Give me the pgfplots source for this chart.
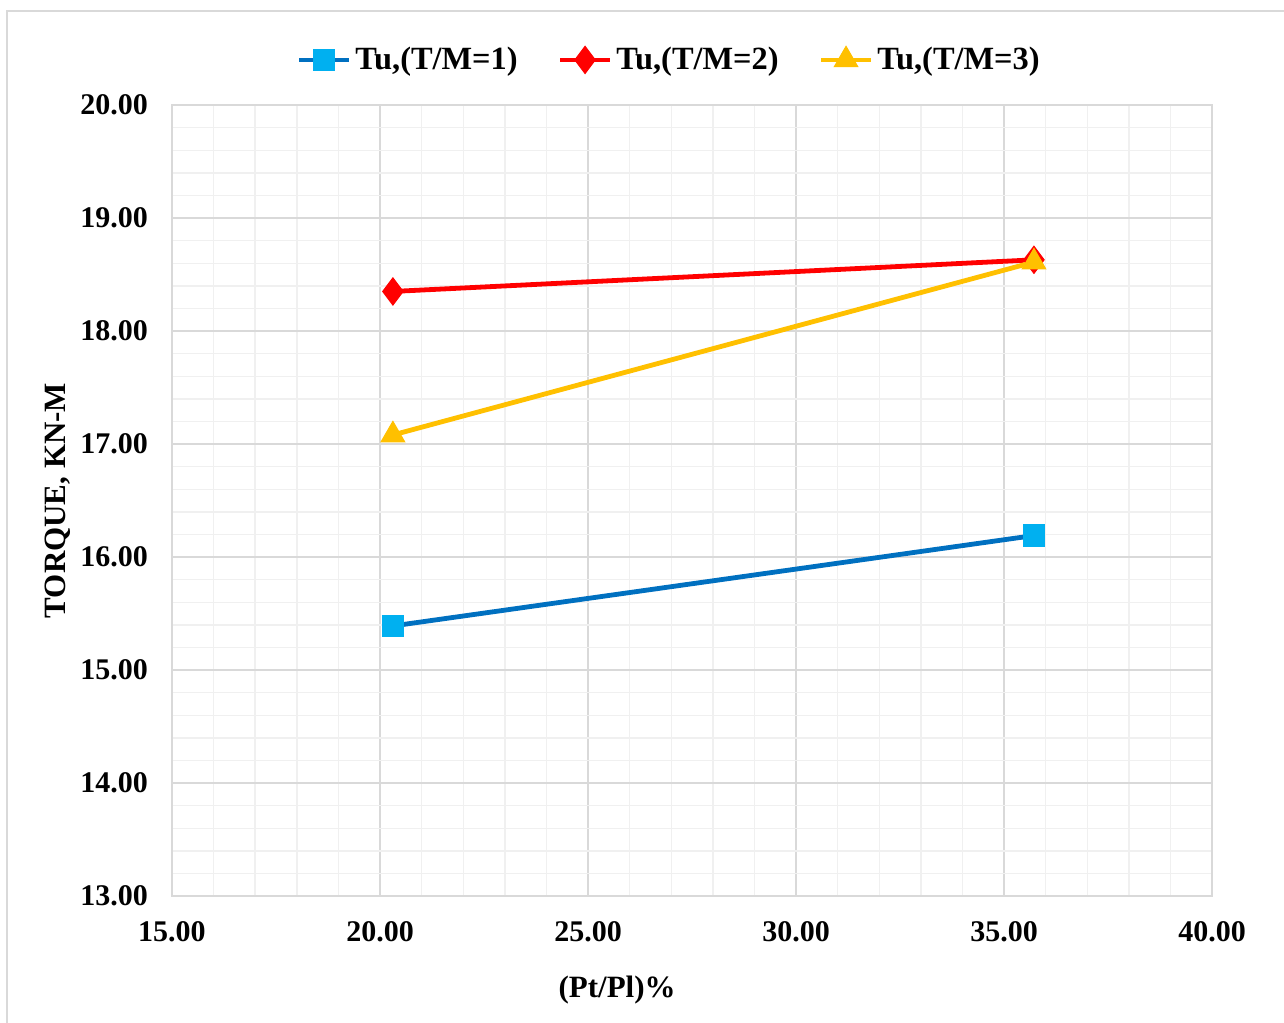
\documentclass[border=0pt]{standalone}
\usepackage{fontspec}
\setmainfont{Liberation Serif}
\usepackage{pgfplots}
\pgfplotsset{compat=1.18}
\definecolor{gmaj}{HTML}{D9D9D9}
\definecolor{gmin}{HTML}{F0F0F0}
\definecolor{c1line}{HTML}{0070C0}
\definecolor{c1mark}{HTML}{00B0F0}
\definecolor{c2}{HTML}{FF0000}
\definecolor{c3}{HTML}{FFC000}
\begin{document}
\begin{tikzpicture}
\useasboundingbox (-86pt,-63pt) rectangle (556pt,448pt);
\draw[gmaj, line width=0.8pt] (-82.5pt,-70pt) rectangle (570pt,442.5pt);
\begin{axis}[
  at={(0pt,0pt)}, anchor=south west,
  scale only axis, width=520pt, height=395.5pt,
  xmin=15, xmax=40, ymin=13, ymax=20,
  xtick={15,20,...,40}, ytick={13,14,...,20},
  minor x tick num=4, minor y tick num=4,
  grid=both,
  major grid style={gmaj, line width=0.7pt},
  minor grid style={gmin, line width=0.7pt},
  axis line style={gmaj, line width=0.7pt},
  tick style={draw=none},
  /pgf/number format/assume math mode=true,
  /pgf/number format/fixed, /pgf/number format/fixed zerofill, /pgf/number format/precision=2,
  ticklabel style={font=\fontsize{15}{18}\selectfont\bfseries},
  xticklabel style={yshift=-9pt},
  yticklabel style={xshift=-8.5pt},
  xlabel={(Pt/Pl)\%},
  ylabel={TORQUE, KN-M},
  label style={font=\fontsize{15.5}{18}\selectfont\bfseries},
  xlabel style={at={(axis description cs:0.428,-0.119)}, anchor=center},
  ylabel style={at={(axis description cs:-0.1096,0.5)}, anchor=center},
  legend style={at={(0.479,1.057)}, anchor=center, draw=none, fill=none,
    legend columns=3, font=\fontsize{16.2}{19}\selectfont\bfseries,
    /tikz/every even column/.append style={column sep=18pt}},
  legend image code/.code={
    \draw[#1, mark=none] (0pt,0pt) -- (25pt,0pt);
    \draw[#1, only marks] plot coordinates {(12.5pt,0pt)};
  },
]
\addplot[c1line, line width=2.4pt, mark=square*, mark size=5.4pt,
  mark options={draw=c1mark, fill=c1mark, line width=0.5pt}]
  coordinates {(20.31,15.39) (35.72,16.19)};
\addlegendentry{Tu,(T/M=1)}
\addplot[c2, line width=2.4pt, mark=diamond*, mark size=6.8pt,
  mark options={draw=c2, fill=c2, line width=0.5pt}]
  coordinates {(20.31,18.35) (35.72,18.63)};
\addlegendentry{Tu,(T/M=2)}
\addplot[c3, line width=2.4pt, mark=triangle*, mark size=6.8pt,
  mark options={draw=c3, fill=c3, line width=0.5pt}]
  coordinates {(20.31,17.08) (35.72,18.61)};
\addlegendentry{Tu,(T/M=3)}
\end{axis}
\end{tikzpicture}
\end{document}
